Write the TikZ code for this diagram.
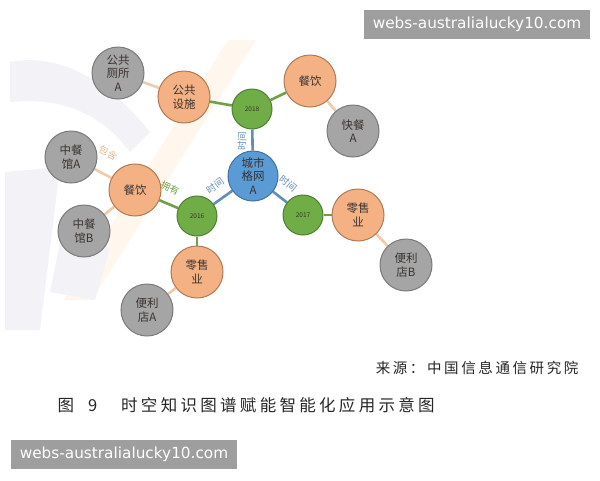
\documentclass[tikz,border=0pt]{standalone}
\usepackage{fontspec}
\setmainfont{Noto Sans CJK SC}
\newfontfamily\cjk{Noto Sans CJK SC}
\newfontfamily\wmfont{DejaVu Sans}
\usetikzlibrary{calc}
\pgfdeclarelayer{deep}
\pgfdeclarelayer{bg}
\pgfsetlayers{deep,bg,main}
\definecolor{orfill}{HTML}{F4B183}
\definecolor{ordraw}{HTML}{B07A55}
\definecolor{grfill}{HTML}{A5A5A5}
\definecolor{grdraw}{HTML}{7A7A7A}
\definecolor{gnfill}{HTML}{70AD47}
\definecolor{gndraw}{HTML}{507E32}
\definecolor{blfill}{HTML}{5B9BD5}
\definecolor{bldraw}{HTML}{41719C}
\definecolor{bledge}{HTML}{5F8FB4}
\definecolor{gnedge}{HTML}{6FA048}
\definecolor{oredge}{HTML}{F2C9A8}
\definecolor{oretext}{HTML}{E8B48C}
\definecolor{wm}{HTML}{9E9E9E}
\definecolor{txt}{HTML}{3A3330}
\tikzset{
  x=1pt,y=-1pt,
  circ/.style={circle,draw,line width=1pt,minimum size=52pt,inner sep=0pt,align=center,font=\cjk\fontsize{11.5}{13.5}\selectfont,text=txt},
  orn/.style={circ,fill=orfill,draw=ordraw},
  grn/.style={circ,fill=grfill,draw=grdraw},
  yr/.style={circ,fill=gnfill,draw=gndraw,minimum size=40pt,font=\fontsize{6.5}{7}\selectfont},
  cen/.style={circ,fill=blfill,draw=bldraw,minimum size=50pt},
  bled/.style={draw=bledge,line width=2.6pt},
  gned/.style={draw=gnedge,line width=2.6pt},
  ored/.style={draw=oredge,line width=2.6pt},
  elab/.style={font=\cjk\fontsize{9.5}{10}\selectfont,inner sep=0pt},
  wmbox/.style={fill=wm,text=white,font=\wmfont\fontsize{15.3}{17}\selectfont,inner sep=0pt,minimum width=226pt,minimum height=29pt}
}
\begin{document}
\begin{tikzpicture}
\useasboundingbox (0,0) rectangle (600,480);
\begin{pgfonlayer}{deep}
\fill[white] (0,0) rectangle (600,480);
\fill[orange!7] (228,40) -- (256,40) -- (92,300) -- (64,300) -- cycle;
\fill[blue!20!gray!8] (10,62) .. controls (60,52) and (110,82) .. (150,132) -- (130,152) .. controls (100,112) and (60,97) .. (10,102) -- cycle;
\fill[blue!20!gray!8] (5,172) -- (60,167) -- (40,330) -- (5,330) -- cycle;
\fill[blue!20!gray!8] (60,242) -- (110,247) -- (95,300) -- (50,292) -- cycle;
\end{pgfonlayer}
% nodes
\node[grn] (wc) at (118,73) {公共\\厕所\\A};
\node[orn] (gg) at (184,97) {公共\\设施};
\node[yr] (y18) at (252,109) {2018};
\node[orn] (cy1) at (310,81) {餐饮};
\node[grn] (kc) at (353,131) {快餐\\A};
\node[cen] (city) at (253,176) {城市\\格网\\A};
\node[grn] (zca) at (71,157) {中餐\\馆A};
\node[orn] (cy2) at (135,190) {餐饮};
\node[grn] (zcb) at (84,231) {中餐\\馆B};
\node[yr] (y16) at (197,216) {2016};
\node[orn] (ls1) at (197,272) {零售\\业};
\node[grn] (bla) at (147,310) {便利\\店A};
\node[yr] (y17) at (303,215) {2017};
\node[orn] (ls2) at (358,215) {零售\\业};
\node[grn] (blb) at (406,265) {便利\\店B};
% edges
\begin{pgfonlayer}{bg}
\path[bled] (city) -- (y18);
\path[bled] (y16) -- (city);
\path[bled] (city) -- (y17);
\path[gned] (y18) -- (gg);
\path[gned] (y18) -- (cy1);
\path[gned] (cy2) -- (y16);
\path[gned] (y16) -- (ls1);
\path[gned] (y17) -- (ls2);
\path[ored] (gg) -- (wc);
\path[ored] (cy1) -- (kc);
\path[ored] (zca) -- (cy2);
\path[ored] (cy2) -- (zcb);
\path[ored] (ls1) -- (bla);
\path[ored] (ls2) -- (blb);
\end{pgfonlayer}
% edge labels
\node[elab,text=bledge,rotate=90] (l1) at (242,141) {时间};
\node[elab,text=bledge,rotate=36] (l2) at (215,186) {时间};
\node[elab,text=bledge,rotate=-38] (l3) at (288,184) {时间};
\node[elab,text=gnedge,rotate=-24] (l4) at (170,188) {拥有};
\node[elab,text=oretext,rotate=-27] (l5) at (108,153) {包含};
% captions
\node[anchor=east,font=\cjk\fontsize{14.5}{16}\selectfont\addfontfeature{LetterSpace=18},text=black!85] (src) at (582,368) {来源：中国信息通信研究院};
\node[anchor=west,font=\cjk\fontsize{16.5}{20}\selectfont\addfontfeature{LetterSpace=20},text=black!85] (cap) at (54,405) {图\hspace{14pt}9\hspace{24pt}时空知识图谱赋能智能化应用示意图};
% watermarks
\node[wmbox] (wm1) at (477,24) {webs-australialucky10.com};
\node[wmbox] (wm2) at (124,454) {webs-australialucky10.com};
\end{tikzpicture}
\end{document}
